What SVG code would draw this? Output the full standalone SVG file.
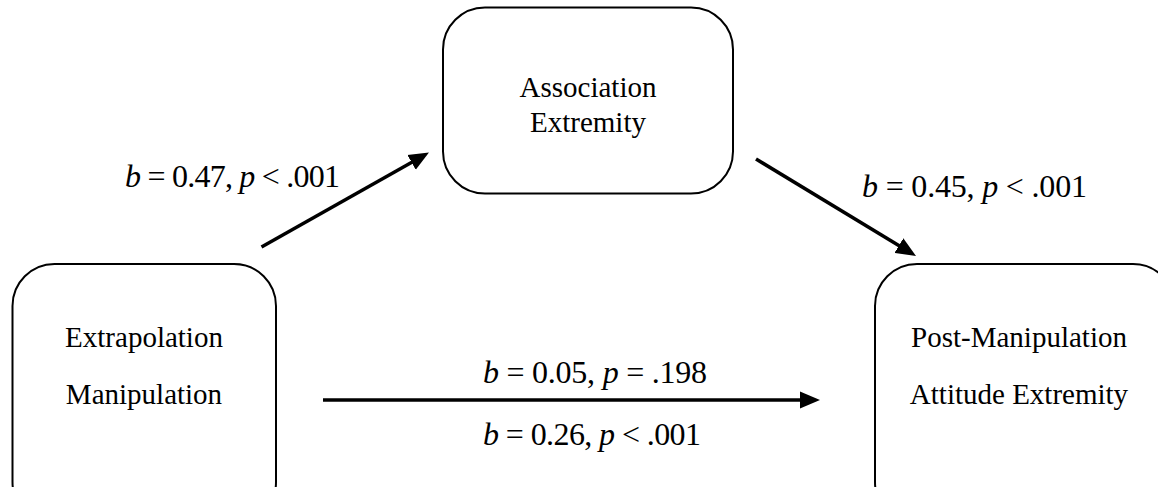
<svg xmlns="http://www.w3.org/2000/svg" width="1158" height="487" viewBox="0 0 1158 487" font-family="'Liberation Serif', 'Times New Roman', serif">
<style>
.box{fill:#fff;stroke:#000;stroke-width:2}
.t{font-size:29px;fill:#000}
.lab{font-size:32px;fill:#000}
.i{font-style:italic}
.c{stroke:#000;stroke-width:3.5;fill:none}
</style>
<defs>
<marker id="ah" markerUnits="userSpaceOnUse" markerWidth="20" markerHeight="18" refX="9" refY="8.5" orient="auto" viewBox="0 0 20 17">
<path d="M0,0 L20,8.5 L0,17 z" fill="#000"/>
</marker>
</defs>
<rect width="1158" height="487" fill="#fff"/>
<g id="extrapolation">
<rect class="box" x="12.5" y="264" width="263.5" height="260" rx="42"/>
<text class="t" x="144" y="347" text-anchor="middle">Extrapolation</text>
<text class="t" x="144" y="404" text-anchor="middle">Manipulation</text>
</g>
<g id="association">
<rect class="box" x="443" y="7.5" width="290" height="186" rx="42"/>
<text class="t" x="588" y="97" text-anchor="middle">Association</text>
<text class="t" x="588" y="132" text-anchor="middle">Extremity</text>
</g>
<g id="attitude">
<rect class="box" x="875" y="264" width="300" height="260" rx="42"/>
<text class="t" x="1019" y="347" text-anchor="middle">Post-Manipulation</text>
<text class="t" x="1019" y="404" text-anchor="middle">Attitude Extremity</text>
</g>
<g id="connectors">
<line class="c" x1="261.5" y1="247" x2="419.4" y2="157.9" marker-end="url(#ah)"/>
<line class="c" x1="756" y1="159" x2="906.6" y2="250.3" marker-end="url(#ah)"/>
<line class="c" x1="323" y1="400" x2="809" y2="400" marker-end="url(#ah)"/>
</g>
<g id="labels">
<text class="lab" x="125" y="187" textLength="215" lengthAdjust="spacing"><tspan class="i">b</tspan> = 0.47, <tspan class="i">p</tspan> &lt; .001</text>
<text class="lab" x="862" y="197" textLength="225" lengthAdjust="spacing"><tspan class="i">b</tspan> = 0.45, <tspan class="i">p</tspan> &lt; .001</text>
<text class="lab" x="483" y="383" textLength="224" lengthAdjust="spacing"><tspan class="i">b</tspan> = 0.05, <tspan class="i">p</tspan> = .198</text>
<text class="lab" x="483" y="445" textLength="218" lengthAdjust="spacing"><tspan class="i">b</tspan> = 0.26, <tspan class="i">p</tspan> &lt; .001</text>
</g>
</svg>
